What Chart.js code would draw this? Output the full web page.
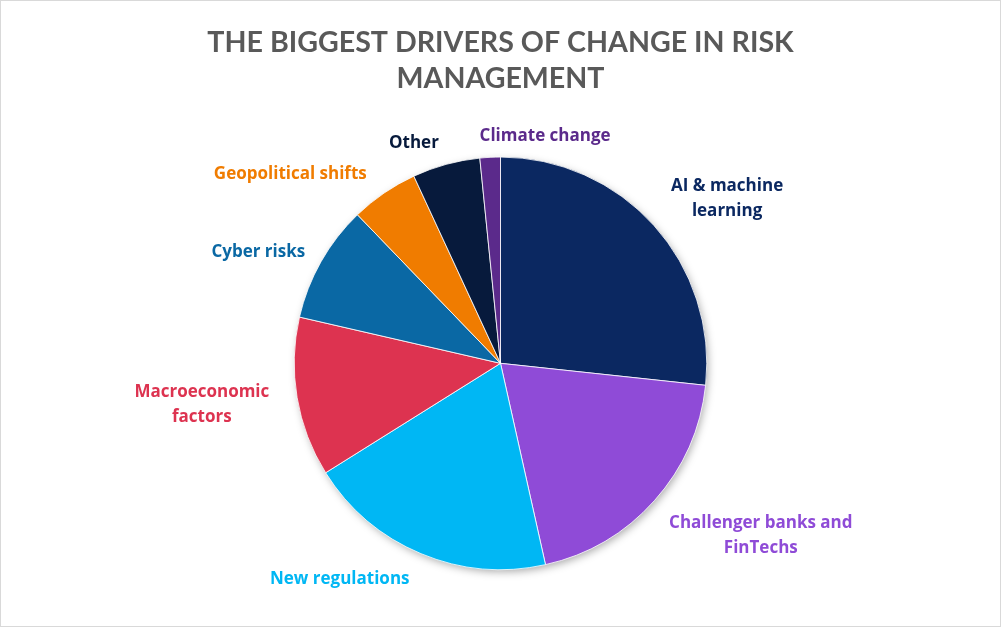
<!DOCTYPE html>
<html>
<head>
<meta charset="utf-8">
<script src="https://cdn.jsdelivr.net/npm/chart.js@4/dist/chart.umd.min.js"></script>
<style>
  html, body { margin: 0; padding: 0; background: #fff; }
  .frame { position: relative; width: 999px; height: 625px; border: 1px solid #d9d9d9; }
  canvas { position: absolute; left: -1px; top: -1px; }
</style>
</head>
<body>
<div class="frame"><canvas id="pie" width="1001" height="627"></canvas></div>
<script>
// Daten
const categories = [
  'AI & machine learning',
  'Challenger banks and FinTechs',
  'New regulations',
  'Macroeconomic factors',
  'Cyber risks',
  'Geopolitical shifts',
  'Other',
  'Climate change'
];
const shares = [26.7, 19.8, 19.6, 12.5, 9.2, 5.3, 5.3, 1.6];
const labelLines = [
  ['AI & machine', 'learning'],
  ['Challenger banks and', 'FinTechs'],
  ['New regulations'],
  ['Macroeconomic', 'factors'],
  ['Cyber risks'],
  ['Geopolitical shifts'],
  ['Other'],
  ['Climate change']
];
const titleLines = ['THE BIGGEST DRIVERS OF CHANGE IN RISK', 'MANAGEMENT'];

const colors = ['#0b2861', '#8f4bd7', '#00b7f4', '#dd3350', '#0a68a4', '#f07c00', '#071a3c', '#5b2a8b'];

// label placement: [angle shift in deg, distance beyond the rim]
const labelShift = [[5.6, 75], [-8.5, 105], [14.3, 61], [2, 95], [-4.5, 61], [-13.3, 78], [-6, 32], [13.9, 27]];

const TITLE_FONT = 'Lato, "Open Sans", sans-serif';
const LABEL_FONT = '"Open Sans", Lato, sans-serif';

// schatten hinter dem kreis
const pieShadow = {
  id: 'pieShadow',
  beforeDatasetsDraw(chart){
    const arc = chart.getDatasetMeta(0).data[0];
    if (!arc) return;
    const ctx = chart.ctx;
    ctx.save();
    ctx.shadowColor = 'rgba(0,0,0,0.35)';
    ctx.shadowBlur = 8;
    ctx.shadowOffsetX = 2;
    ctx.shadowOffsetY = 3;
    ctx.fillStyle = '#ffffff';
    ctx.beginPath();
    ctx.arc(arc.x, arc.y, arc.outerRadius - 1, 0, Math.PI * 2);
    ctx.fill();
    ctx.restore();
  }
};

const outsideLabels = {
  id: 'outsideLabels',
  afterDatasetsDraw(chart){
    const ctx = chart.ctx;
    const meta = chart.getDatasetMeta(0);
    ctx.save();
    ctx.font = 'bold 17px ' + LABEL_FONT;
    ctx.textAlign = 'center';
    ctx.textBaseline = 'middle';
    meta.data.forEach((arc, i)=>{
      const mid = (arc.startAngle + arc.endAngle) / 2 + labelShift[i][0] * Math.PI / 180;
      const r = arc.outerRadius + labelShift[i][1];
      const cx = arc.x + Math.cos(mid) * r;
      const cy = arc.y + Math.sin(mid) * r + 2;
      const lines = labelLines[i];
      const lh = 25;
      ctx.fillStyle = colors[i];
      lines.forEach((t, k)=>{
        ctx.fillText(t, cx, cy + (k - (lines.length - 1) / 2) * lh);
      });
    });
    ctx.restore();
  }
};

new Chart(document.getElementById('pie'), {
  type: 'pie',
  data: {
    labels: categories,
    datasets: [{
      data: shares,
      backgroundColor: colors,
      borderColor: '#ffffff',
      borderWidth: 0.8
    }]
  },
  options: {
    responsive: false,
    animation: false,
    layout: { padding: { top: 0, bottom: 57, left: 0, right: 0 } },
    plugins: {
      legend: { display: false },
      tooltip: { enabled: false },
      title: {
        display: true,
        text: titleLines,
        color: '#595959',
        font: { family: TITLE_FONT, size: 28.6, weight: 'bold', lineHeight: 1.23 },
        padding: { top: 25.5, bottom: 60.8 }
      }
    }
  },
  plugins: [pieShadow, outsideLabels]
});
</script>
</body>
</html>
